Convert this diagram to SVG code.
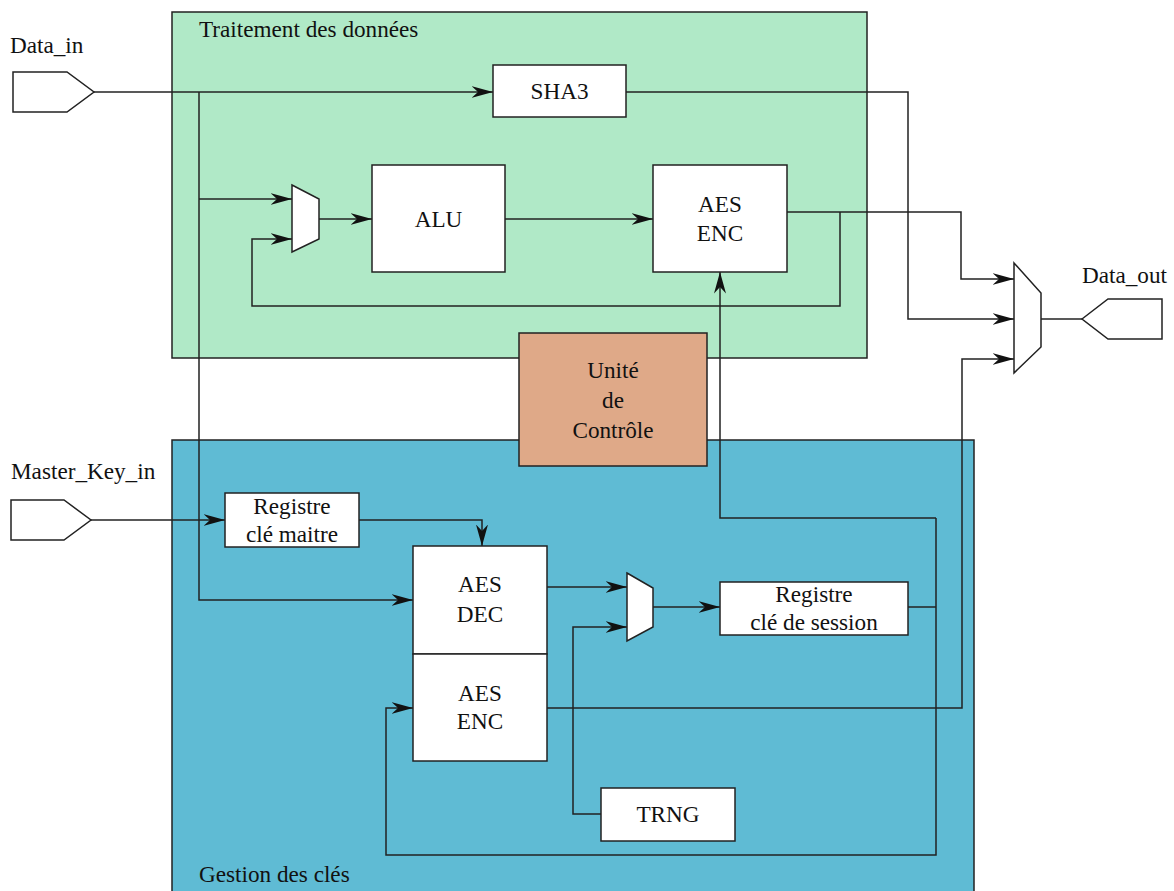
<svg xmlns="http://www.w3.org/2000/svg" width="1174" height="891" viewBox="0 0 1174 891">
<defs>
<style>
.t{font-family:"Liberation Serif","Times New Roman",serif;font-size:23.2px;fill:#111;}
.c{text-anchor:middle;}
.box{fill:#fff;stroke:#222;stroke-width:1.5;}
.w{fill:none;stroke:#222;stroke-width:1.5;}
.a{marker-end:url(#arr);}
</style>
<marker id="arr" viewBox="0 0 22 12" markerWidth="22" markerHeight="12" refX="21.5" refY="6" orient="auto" markerUnits="userSpaceOnUse">
<path d="M0,0 L21.5,6 L0,12 L6.5,6 Z" fill="#111"/>
</marker>
</defs>
<rect width="1174" height="891" fill="#fff"/>
<g id="traitement">
<rect x="172" y="12" width="695" height="346" fill="#b0e9c7" stroke="#222" stroke-width="1.5"/>
<text class="t" x="199" y="37">Traitement des données</text>
</g>
<g id="gestion">
<rect x="172" y="440" width="802" height="460" fill="#5fbbd4" stroke="#222" stroke-width="1.5"/>
<text class="t" x="199" y="882">Gestion des clés</text>
</g>
<g id="connectors">
<path class="w a" d="M94,92 H493"/>
<path class="w a" d="M199,92 V600 H413"/>
<path class="w a" d="M199,199 H292"/>
<path class="w a" d="M318,219 H372"/>
<path class="w a" d="M505,219 H653"/>
<path class="w a" d="M626,92 H908 V319 H1014"/>
<path class="w a" d="M787,212 H961 V279 H1014"/>
<path class="w a" d="M840,212 V306 H252 V239 H292"/>
<path class="w" d="M1041,319 H1082"/>
<path class="w a" d="M91,520 H225"/>
<path class="w a" d="M359,520 H482 V546"/>
<path class="w a" d="M547,587 H627"/>
<path class="w a" d="M601,814 H573 V627 H627"/>
<path class="w a" d="M653,607 H720"/>
<path class="w" d="M908,607 H936"/>
<path class="w a" d="M936,518 H720 V272"/>
<path class="w a" d="M936,518 V855 H386 V708 H413"/>
<path class="w a" d="M547,708 H962 V359 H1014"/>
</g>
<g id="data_in">
<polygon class="box" points="13,72 67,72 94,92 67,112 13,112"/>
<text class="t" x="10" y="53">Data_in</text>
</g>
<g id="master_key_in">
<polygon class="box" points="11,500 64,500 91,520 64,540 11,540"/>
<text class="t" x="11" y="479">Master_Key_in</text>
</g>
<g id="data_out">
<polygon class="box" points="1082,319 1108,299 1162,299 1162,339 1108,339"/>
<text class="t" x="1082" y="283">Data_out</text>
</g>
<g id="sha3">
<rect class="box" x="493" y="65" width="133" height="52"/>
<text class="t c" x="559.5" y="99">SHA3</text>
</g>
<g id="mux1">
<polygon class="box" points="292,185 319,199 319,239 292,252"/>
</g>
<g id="alu">
<rect class="box" x="372" y="165" width="133" height="107"/>
<text class="t c" x="438.5" y="227">ALU</text>
</g>
<g id="aes_enc_top">
<rect class="box" x="653" y="165" width="134" height="107"/>
<text class="t c" x="720" y="212">AES</text>
<text class="t c" x="720" y="241">ENC</text>
</g>
<g id="mux_out">
<polygon class="box" points="1014,263 1041,293 1041,347 1014,373"/>
</g>
<g id="controle">
<rect x="519" y="333" width="188" height="133" fill="#dfa988" stroke="#222" stroke-width="1.5"/>
<text class="t c" x="613" y="378">Unité</text>
<text class="t c" x="613" y="408">de</text>
<text class="t c" x="613" y="438">Contrôle</text>
</g>
<g id="reg_maitre">
<rect class="box" x="225" y="493" width="134" height="54"/>
<text class="t c" x="292" y="514">Registre</text>
<text class="t c" x="292" y="542">clé maitre</text>
</g>
<g id="aes_dec">
<rect class="box" x="413" y="546" width="134" height="108"/>
<text class="t c" x="480" y="592">AES</text>
<text class="t c" x="480" y="622">DEC</text>
</g>
<g id="aes_enc_bottom">
<rect class="box" x="413" y="654" width="134" height="107"/>
<text class="t c" x="480" y="701">AES</text>
<text class="t c" x="480" y="729">ENC</text>
</g>
<g id="mux2">
<polygon class="box" points="627,573 653,588 653,627 627,641"/>
</g>
<g id="reg_session">
<rect class="box" x="720" y="582" width="188" height="53"/>
<text class="t c" x="814" y="602">Registre</text>
<text class="t c" x="814" y="630">clé de session</text>
</g>
<g id="trng">
<rect class="box" x="601" y="788" width="134" height="53"/>
<text class="t c" x="668" y="822">TRNG</text>
</g>
</svg>
